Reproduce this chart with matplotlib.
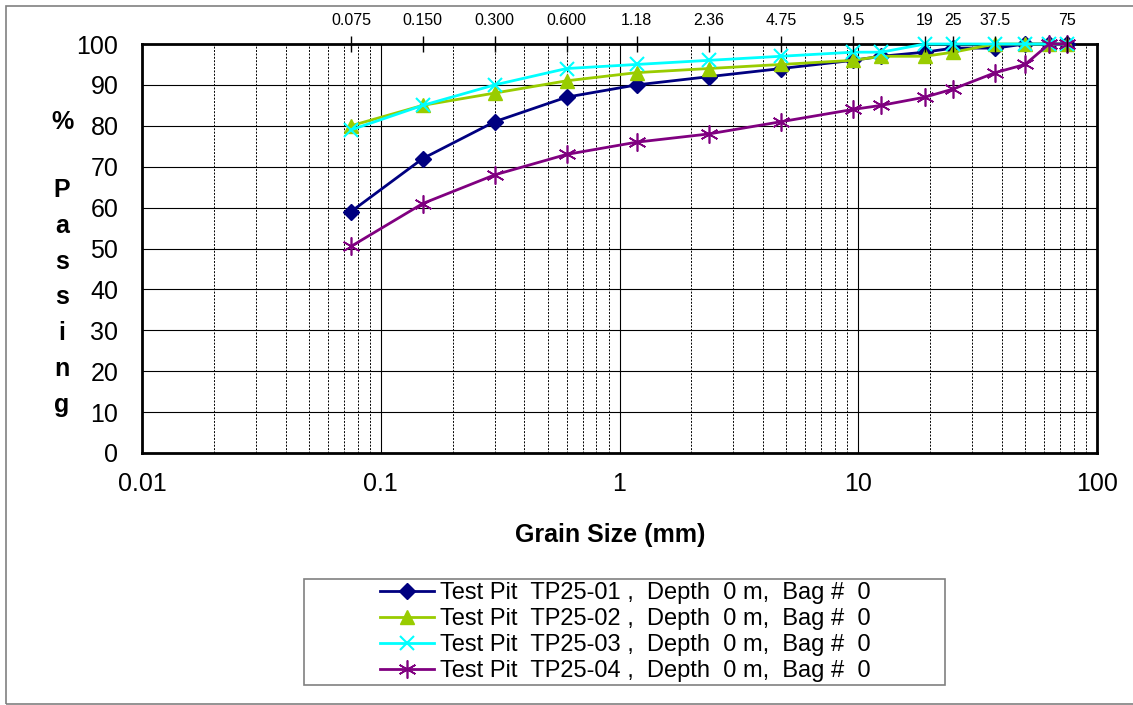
import matplotlib
matplotlib.use("Agg")
import matplotlib.pyplot as plt
from matplotlib.patches import Rectangle
from matplotlib.ticker import FixedLocator, LogLocator, NullFormatter

plt.rcParams["font.family"] = ["Liberation Sans", "DejaVu Sans"]

# sieve sizes (mm) and percent passing per test pit
sizes = [0.075, 0.150, 0.300, 0.600, 1.18, 2.36, 4.75, 9.5, 12.5, 19, 25, 37.5, 50, 63, 75]
tp01 = [59, 72, 81, 87, 90, 92, 94, 96, 97, 98, 99, 99, 100, 100, 100]
tp02 = [80, 85, 88, 91, 93, 94, 95, 96, 97, 97, 98, 100, 100, 100, 100]
tp03 = [79, 85, 90, 94, 95, 96, 97, 98, 98, 100, 100, 100, 100, 100, 100]
tp04 = [50.5, 61, 68, 73, 76, 78, 81, 84, 85, 87, 89, 93, 95, 100, 100]

top_ticks = [0.075, 0.150, 0.300, 0.600, 1.18, 2.36, 4.75, 9.5, 19, 25, 37.5, 75]
top_labels = ["0.075", "0.150", "0.300", "0.600", "1.18", "2.36", "4.75", "9.5",
              "19", "25", "37.5", "75"]
labels = [f"Test Pit  TP25-0{i} ,  Depth  0 m,  Bag #  0" for i in range(1, 5)]

W, H = 1133, 705
fig = plt.figure(figsize=(W / 100, H / 100), dpi=100)
ax = fig.add_axes([142 / W, 1 - 453 / H, 955 / W, 409 / H])

styles = [
    dict(color="#000080", marker="D", ms=8),
    dict(color="#99cc00", marker="^", ms=10),
    dict(color="#00ffff", marker="x", ms=10, mew=1.5),
    dict(color="#800080", marker=(6, 2, 0), ms=13, mew=1.2),
]
for ys, st, lab in zip([tp01, tp02, tp03, tp04], styles, labels):
    ax.plot(sizes, ys, lw=2, label=lab, clip_on=False, zorder=3, **st)

ax.set_xscale("log")
ax.set_xlim(0.01, 100)
ax.set_ylim(0, 100)
ax.set_yticks(range(0, 101, 10))
ax.set_xticks([0.01, 0.1, 1, 10, 100])
ax.set_xticklabels(["0.01", "0.1", "1", "10", "100"])
ax.xaxis.set_minor_locator(LogLocator(base=10, subs=range(2, 10)))
ax.xaxis.set_minor_formatter(NullFormatter())
ax.tick_params(axis="both", which="both", length=0, labelsize=18)
ax.tick_params(axis="x", pad=14)
ax.tick_params(axis="y", pad=17)
ax.grid(True, which="major", axis="both", color="black", lw=0.8)
ax.grid(True, which="minor", axis="x", color="black", lw=0.7, ls=(0, (2, 1.5)))
for sp in ax.spines.values():
    sp.set_linewidth(2)

top = ax.twiny()
top.set_xscale("log")
top.set_xlim(ax.get_xlim())
top.xaxis.set_major_locator(FixedLocator(top_ticks))
top.set_xticklabels(top_labels)
top.xaxis.set_minor_locator(FixedLocator([]))
top.tick_params(axis="x", direction="inout", length=11, width=1, labelsize=11.5, pad=6)
for sp in top.spines.values():
    sp.set_visible(False)

# vertical "% Passing" label
fig.text(62 / W, 1 - 122 / H, "%", fontsize=18, fontweight="bold", ha="center", va="center")
for k, ch in enumerate("Passing"):
    fig.text(62 / W, 1 - (190 + k * 35.8) / H, ch, fontsize=18, fontweight="bold",
             ha="center", va="center")

fig.text(610 / W, 1 - 535 / H, "Grain Size (mm)", fontsize=18, fontweight="bold",
         ha="center", va="center")

# legend: entries sit inside a wider framed box
leg = fig.legend(loc="center left", bbox_to_anchor=(380 / W, 1 - 632 / H),
                 fontsize=17, frameon=False, handlelength=2.3, handletextpad=0.25,
                 labelspacing=0.17, borderaxespad=0, borderpad=0)
fig.patches.append(Rectangle((304 / W, 1 - 685 / H), 641 / W, 106 / H,
                             transform=fig.transFigure, fill=False,
                             edgecolor="#808080", lw=1.2))

fig.patches.append(Rectangle((6 / W, 1 - 704 / H), 1.2, 698 / H, transform=fig.transFigure,
                             fill=False, edgecolor="#808080", lw=1.2))

fig.savefig("out.png", dpi=100)
